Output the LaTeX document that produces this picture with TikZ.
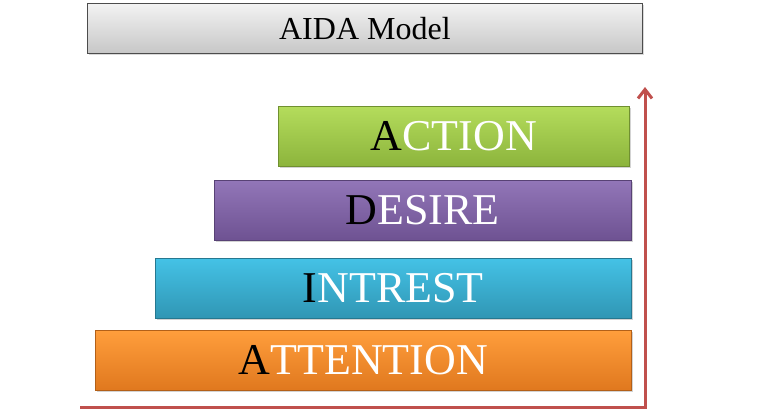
\documentclass[tikz,border=0pt]{standalone}
\usepackage{fontspec}
\setmainfont{Liberation Serif}
\usetikzlibrary{shadows,arrows.meta}
\definecolor{actT}{HTML}{B4DC5C}
\definecolor{actB}{HTML}{8CB43C}
\definecolor{desT}{HTML}{9276B8}
\definecolor{desB}{HTML}{6E5292}
\definecolor{intT}{HTML}{44C2E6}
\definecolor{intB}{HTML}{3096B4}
\definecolor{attT}{HTML}{FF9E3C}
\definecolor{attB}{HTML}{E0781E}
\definecolor{arr}{HTML}{C0504D}
\tikzset{
  stage/.style={anchor=north west, minimum height=60pt, inner sep=0pt, draw=#1B!80!black, line width=0.6pt,
     top color=#1T, bottom color=#1B, drop shadow={shadow xshift=1.5pt, shadow yshift=-1.5pt, opacity=0.35},
     text=white, font=\fontsize{44}{44}\selectfont},
  titlebox/.style={anchor=north west, minimum width=555pt, minimum height=50pt, inner sep=0pt,
     draw=black!70, line width=0.8pt, top color=black!5, bottom color=black!22,
     drop shadow={shadow xshift=1.5pt, shadow yshift=-1.5pt, opacity=0.3},
     font=\fontsize{32}{32}\selectfont},
  axis/.style={draw=arr, line width=3pt, -{Straight Barb[length=9pt,width=14pt,line width=3pt]}}
}
\begin{document}
\begin{tikzpicture}[x=1pt,y=-1pt]
\useasboundingbox (0,0) rectangle (768,415);
\node[titlebox] (title) at (87,3) {AIDA Model};
\node[stage=act, minimum width=351pt] (action) at (278,106) {\textcolor{black}{A}CTION};
\node[stage=des, minimum width=417pt] (desire) at (214,180) {\textcolor{black}{D}ESIRE};
\node[stage=int, minimum width=476pt] (intrest) at (155,258) {\textcolor{black}{I}NTREST};
\node[stage=att, minimum width=536pt] (attention) at (95,330) {\textcolor{black}{A}TTENTION};
\coordinate (o) at (80,407);
\coordinate (c) at (645,407);
\coordinate (top) at (645,87);
\draw[axis] (o) -- (c) -- (top);
\end{tikzpicture}
\end{document}
